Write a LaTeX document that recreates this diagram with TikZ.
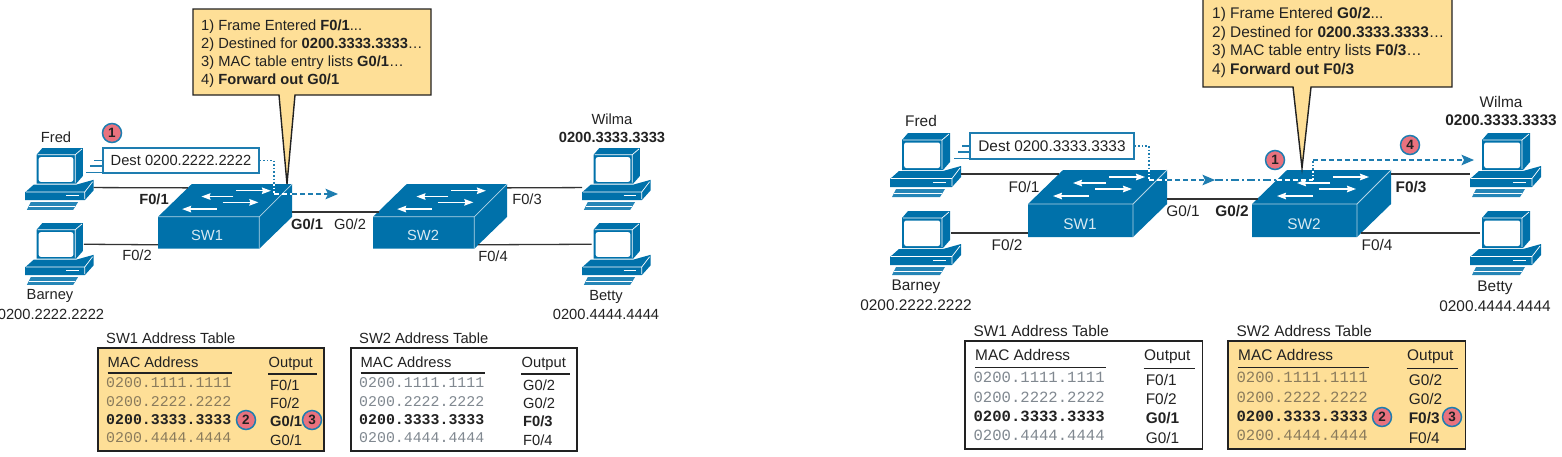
\documentclass[tikz,border=0pt]{standalone}
\usepackage{fontspec}
\setmainfont{Liberation Sans}
\setmonofont{Liberation Mono}
\usetikzlibrary{arrows.meta}
\definecolor{ciscoblue}{HTML}{0071AA}
\definecolor{framec}{HTML}{1E7DB0}
\definecolor{noteyellow}{HTML}{FEDF97}
\definecolor{inkc}{HTML}{222222}
\definecolor{linkc}{HTML}{333333}
\definecolor{badgered}{HTML}{E9727E}
\definecolor{monoy}{HTML}{8A7B5C}
\definecolor{monow}{HTML}{808890}
\tikzset{
  link/.style={draw=linkc,line width=1.3pt},
  tl/.style={font=\fontsize{14.7}{18.1}\selectfont,text=inkc,inner sep=0pt},
  tr/.style={font=\fontsize{15.4}{18.5}\selectfont,text=inkc,inner sep=0pt},
  swl/.style={font=\fontsize{14.7}{18}\selectfont,text=white!85!ciscoblue,inner sep=0pt},
  swr/.style={font=\fontsize{15.4}{18}\selectfont,text=white!85!ciscoblue,inner sep=0pt},
  notebox/.style={draw=inkc,fill=noteyellow,line width=1.4pt,line join=miter},
  destbox/.style={draw=framec,fill=white,line width=1.3pt,inner sep=0pt,text=inkc},
  speed/.style={draw=framec,line width=1.2pt},
  flowdot/.style={draw=framec,line width=1.3pt,dash pattern=on 1.6pt off 2pt},
  flowdash/.style={draw=framec,line width=1.3pt,dash pattern=on 5pt off 3pt},
  flowmix/.style={draw=framec,line width=1.3pt,dash pattern=on 8pt off 3pt on 2pt off 3pt},
  whitedot/.style={draw=white,line width=1.3pt,dash pattern=on 1.6pt off 2pt},
  whitedash/.style={draw=white,line width=1.3pt,dash pattern=on 5pt off 3pt},
  tip/.style={-{Stealth[length=12.5pt,width=10.5pt,inset=2.5pt,fill=framec]}},
  swarrow/.style={draw=white,line width=1.4pt,-{Stealth[length=9pt,width=6.5pt,inset=1pt]}},
  badge/.style={circle,draw=framec,fill=badgered,line width=1.5pt,minimum size=19pt,inner sep=0pt,text=inkc,font=\fontsize{13.5}{14}\bfseries\selectfont},
  pics/pc/.style={code={
    \fill[ciscoblue] (12,7)--(18,0)--(60,0)--(60,29)--(53,37)--(12,37)--cycle;
    \draw[white,line width=.7pt] (13,7)--(52,7)--(52,36) (52,7)--(59,1);
    \fill[white,rounded corners=2pt] (14.2,9.5) rectangle (50,35);
    \fill[ciscoblue] (0,46)--(9,38)--(53,38)--(62,35.5)--(71,33)--(71,44)--(62,54)--(0,54)--cycle;
    \draw[white,line width=.7pt] (1,45.5)--(62,45.5)--(70,35) (62,45.5)--(62,53);
    \draw[white,line width=1.2pt] (43,49.5)--(56,49.5);
    \fill[ciscoblue!85!white] (6,56)--(55,56)--(50,64)--(2,64)--cycle;
    \draw[white,line width=.7pt] (4,60.5)--(52,60.5);
    \coordinate (-eh) at (71,41);
    \coordinate (-wh) at (61,22);
    \coordinate (-in) at (0,41);
    \coordinate (-mon) at (10,22);
  }},
  pics/switchbox/.style={code={
    \fill[ciscoblue] (0,34)--(35,0)--(139,0)--(139,34)--(105,67)--(0,67)--cycle;
    \draw[white!70!ciscoblue,line width=.8pt] (0,34)--(105,34)--(139,0) (105,34)--(105,67);
    \draw[swarrow] (81,7)--(117,7);
    \draw[swarrow] (78,13)--(45,13);
    \draw[swarrow] (67,19)--(104,19);
    \draw[swarrow] (61,26)--(25,26);
    \coordinate (-tl) at (31,4);
    \coordinate (-tr) at (139,4);
    \coordinate (-bl) at (0,63);
    \coordinate (-br) at (109,63);
    \coordinate (-mr) at (139,29);
    \coordinate (-ml) at (6,29);
  }},
}
% name, x, y, scale, fill, font size, title, mono colour, outputs
\newcommand{\addrtable}[9]{%
  \begin{scope}[shift={(#2,#3)},scale=#4]
    \node[anchor=west,inner sep=0pt,text=inkc,font=\fontsize{#6}{#6}\selectfont] (#1-title) at (8,-9.5) {#7};
    \path[draw=inkc,fill=#5,line width=1.4pt] (0,0) rectangle (226,103);
    \node[anchor=base west,inner sep=0pt,text=inkc,font=\fontsize{#6}{#6}\selectfont] (#1-mac) at (9.5,19) {MAC Address};
    \node[anchor=base west,inner sep=0pt,text=inkc,font=\fontsize{#6}{#6}\selectfont] (#1-out) at (170.5,19) {Output};
    \draw[inkc,line width=1.2pt] (9.5,25)--(134,25) (170,26)--(219,26);
    \foreach \o [count=\i] in {#9} {
      \pgfmathsetmacro{\ry}{35+18.3*(\i-1)}
      \ifnum\i=3 \def\bfx{\bfseries}\def\cfx{inkc}\else \def\bfx{}\def\cfx{#8}\fi
      \node[anchor=west,inner sep=0pt,text=\cfx,font=\fontsize{\fpeval{#6*1.013}}{16}\ttfamily\bfx\selectfont] (#1-m\i) at (8,\ry) {0200.\i\i\i\i.\i\i\i\i};
      \node[anchor=west,inner sep=0pt,text=inkc,font=\fontsize{#6}{16}\bfx\selectfont] (#1-o\i) at (172,\ry+2) {\o};
    }
  \end{scope}
}
\begin{document}
\begin{tikzpicture}[x=1pt,y=-1pt]
\useasboundingbox (0,0) rectangle (1562,456);
\clip (0,0) rectangle (1562,456);

% ---------- pcs (left)
\pic[scale=.965] (lfred) at (25,148) {pc};
\pic[scale=.965] (lbarney) at (25,223) {pc};
\pic[scale=.965] (lwilma) at (582,148) {pc};
\pic[scale=.965] (lbetty) at (582,223) {pc};
% ---------- pcs (right)
\pic (rfred) at (890,133) {pc};
\pic (rbarney) at (890,211) {pc};
\pic (rwilma) at (1470,133) {pc};
\pic (rbetty) at (1470,211) {pc};

% ---------- switches
\pic[scale=.965] (lsw1) at (158,184) {switchbox};
\pic[scale=.965] (lsw2) at (373,184) {switchbox};
\pic (rsw1) at (1028,170) {switchbox};
\pic (rsw2) at (1252,170) {switchbox};

% ---------- links
\draw[link] (lfred-eh) -- (lsw1-tl);
\draw[link] (lbarney-wh) -- (lsw1-bl);
\draw[link] (lsw1-mr) -- (lsw2-ml);
\draw[link] (lsw2-tr) -- (lwilma-in);
\draw[link] (lsw2-br) -- (lbetty-mon);
\draw[link] (rfred-eh) -- (rsw1-tl);
\draw[link] (rbarney-wh) -- (rsw1-bl);
\draw[link] (rsw1-mr) -- (rsw2-ml);
\draw[link] (rsw2-tr) -- (rwilma-in);
\draw[link] (rsw2-br) -- (rbetty-mon);

% ---------- frames
\node[destbox,tl,draw=framec,minimum width=156pt,minimum height=25pt] (ldest) at (181,160.5) {Dest 0200.2222.2222};
\node[destbox,tr,draw=framec,minimum width=164pt,minimum height=26pt] (rdest) at (1052,146) {Dest 0200.3333.3333};
\draw[speed] (ldest.west) -- ++(-8,0);
\draw[speed] ([yshift=-5.5pt]ldest.west) -- ++(-12,0);
\draw[speed] ([yshift=-12pt]ldest.west) -- ++(-16,0);
\draw[speed] (rdest.west) -- ++(-7,0);
\draw[speed] ([yshift=-6pt]rdest.west) -- ++(-11,0);
\draw[speed] ([yshift=-12.5pt]rdest.west) -- ++(-15,0);

% ---------- flow paths
\coordinate (lturn) at (274,160.5);
\coordinate (ltop) at (274,184);
\coordinate (ljoin) at (274,194);
\coordinate (ledge) at (292,194);
\coordinate (ltip) at (338,194);
\draw[flowdot] (ldest.east) -- (lturn) -- (ltop);
\draw[flowdash,tip] (ledge) -- (ltip);
\draw[whitedot] (ltop) -- (ljoin);
\draw[whitedash] (ljoin) -- (ledge);

\coordinate (rturn) at (1149,146);
\coordinate (rtop) at (1149,170);
\coordinate (rjoin) at (1149,180);
\coordinate (redge) at (1167,180);
\coordinate (rmid) at (1215,180);
\coordinate (rin) at (1277,180);
\coordinate (rcross) at (1313,180);
\coordinate (rtopb) at (1313,170);
\coordinate (rup) at (1313,160);
\coordinate (rtip) at (1474,160);
\draw[flowdot] (rdest.east) -- (rturn) -- (rtop);
\draw[flowdash,tip] (redge) -- (rmid);
\draw[flowmix] (rmid) -- (rin);
\draw[flowdot] (rtopb) -- (rup);
\draw[flowdash,tip] (rup) -- (rtip);
\draw[whitedot] (rtop) -- (rjoin);
\draw[whitedash] (rjoin) -- (redge);
\draw[whitedash] (rin) -- (rcross);
\draw[whitedot] (rcross) -- (rtopb);

% ---------- callouts
\path[notebox] (193,9) -- (431,9) -- (431,95) -- (295,95) -- (287,184) -- (279,95) -- (193,95) -- cycle;
\node[tl,anchor=west,align=left] (lnote) at (201,53.5) {1) Frame Entered \textbf{F0/1}...\\2) Destined for \textbf{0200.3333.3333}…\\3) MAC table entry lists \textbf{G0/1}…\\4) \textbf{Forward out G0/1}};
\path[notebox] (1203,-5) -- (1452,-5) -- (1452,87) -- (1311,87) -- (1302,168) -- (1293,87) -- (1203,87) -- cycle;
\node[tr,anchor=west,align=left] (rnote) at (1212,42.5) {1) Frame Entered \textbf{G0/2}...\\2) Destined for \textbf{0200.3333.3333}…\\3) MAC table entry lists \textbf{F0/3}…\\4) \textbf{Forward out F0/3}};

% ---------- labels left
\node[tl] (t1) at (56,137) {Fred};
\node[tl] (t2) at (50,296) {Barney};
\node[tl] (t3) at (51,314) {0200.2222.2222};
\node[tl] (t4) at (612,119) {Wilma};
\node[tl,font=\fontsize{14.7}{18}\bfseries\selectfont] (t5) at (612,137) {0200.3333.3333};
\node[tl] (t6) at (606,297) {Betty};
\node[tl] (t7) at (606,314) {0200.4444.4444};
\node[tl,font=\fontsize{14.7}{18}\bfseries\selectfont] (t8) at (154,199) {F0/1};
\node[tl] (t9) at (137,255) {F0/2};
\node[swl] (t10) at (207,235) {SW1};
\node[tl,font=\fontsize{14.7}{18}\bfseries\selectfont] (t11) at (307,224) {G0/1};
\node[tl] (t12) at (350,224) {G0/2};
\node[swl] (t13) at (423,235) {SW2};
\node[tl] (t14) at (527,199) {F0/3};
\node[tl] (t15) at (493,256) {F0/4};
% ---------- labels right
\node[tr] (u1) at (921,121) {Fred};
\node[tr] (u2) at (916,287) {Barney};
\node[tr] (u3) at (916,305) {0200.2222.2222};
\node[tr] (u4) at (1501,102) {Wilma};
\node[tr,font=\fontsize{15.4}{18}\bfseries\selectfont] (u5) at (1501,120) {0200.3333.3333};
\node[tr] (u6) at (1495,288) {Betty};
\node[tr] (u7) at (1495,306) {0200.4444.4444};
\node[tr] (u8) at (1024,187) {F0/1};
\node[tr] (u9) at (1007,245) {F0/2};
\node[swr] (u10) at (1080,224) {SW1};
\node[tr] (u11) at (1183,211) {G0/1};
\node[tr,font=\fontsize{15.4}{18}\bfseries\selectfont] (u12) at (1232,211) {G0/2};
\node[swr] (u13) at (1304,224) {SW2};
\node[tr,font=\fontsize{15.4}{18}\bfseries\selectfont] (u14) at (1411,187) {F0/3};
\node[tr] (u15) at (1377,245) {F0/4};

% ---------- tables
\addrtable{ltab1}{98}{348}{1}{noteyellow}{14.7}{SW1 Address Table}{monoy}{F0/1,F0/2,G0/1,G0/1}
\addrtable{ltab2}{351}{348}{1}{white}{14.7}{SW2 Address Table}{monow}{G0/2,G0/2,F0/3,F0/4}
\addrtable{rtab1}{965}{341}{1.05}{white}{15.4}{SW1 Address Table}{monow}{F0/1,F0/2,G0/1,G0/1}
\addrtable{rtab2}{1228}{341}{1.05}{noteyellow}{15.4}{SW2 Address Table}{monoy}{G0/2,G0/2,F0/3,F0/4}

% ---------- badges
\node[badge] (b1) at (112,133) {1};
\node[badge] (b2) at (246,420) {2};
\node[badge] (b3) at (312,420) {3};
\node[badge] (b4) at (1275,160) {1};
\node[badge] (b5) at (1410,145) {4};
\node[badge] (b6) at (1382,417) {2};
\node[badge] (b7) at (1452,417) {3};
\end{tikzpicture}
\end{document}
